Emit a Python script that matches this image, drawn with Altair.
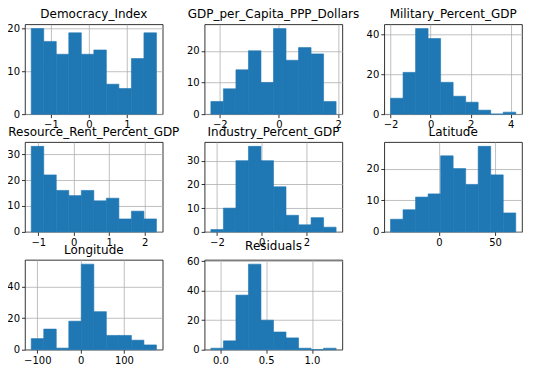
import altair as alt
import numpy as np
import pandas as pd

names = ["Democracy_Index", "GDP_per_Capita_PPP_Dollars", "Military_Percent_GDP",
         "Resource_Rent_Percent_GDP", "Industry_Percent_GDP", "Latitude",
         "Longitude", "Residuals"]
lows = [-1.52, -2.30, -2.00, -1.20, -2.27, -43.0, -114.0, -0.104]
highs = [1.78, 1.93, 4.25, 2.33, 3.33, 68.4, 175.0, 1.264]
counts = [
    [20, 17, 14, 19, 14, 15, 7, 6, 13, 19],
    [4, 8, 14, 20, 10, 27, 17, 21, 19, 4],
    [8, 21, 43, 38, 16, 9, 6, 2, 0, 1],
    [33, 22, 16, 14, 16, 12, 13, 5, 8, 5],
    [1, 10, 30, 36, 30, 19, 7, 3, 6, 2],
    [4, 7, 11, 12, 24, 20, 15, 27, 18, 6],
    [7, 13, 1, 18, 54, 24, 9, 9, 6, 3],
    [1, 6, 37, 58, 20, 12, 8, 1, 0, 1],
]
x_ticks = [
    [-1, 0, 1],
    [-2, 0, 2],
    [-2, 0, 2, 4],
    [-1, 0, 1, 2],
    [-2, 0, 2],
    [0, 50],
    [-100, 0, 100],
    [0.0, 0.5, 1.0],
]
y_ticks = [
    [0, 10, 20],
    [0, 10, 20],
    [0, 20, 40],
    [0, 10, 20, 30],
    [0, 10, 20, 30],
    [0, 10, 20],
    [0, 20, 40],
    [0, 20, 40, 60],
]
x_formats = ["d", "d", "d", "d", "d", "d", "d", ".1f"]

minus_expr = "replace(datum.label, '-', '\u2212')"

charts = []
for i, name in enumerate(names):
    edges = np.linspace(lows[i], highs[i], len(counts[i]) + 1)
    df = pd.DataFrame({"start": edges[:-1], "end": edges[1:], "count": counts[i]})
    span = highs[i] - lows[i]
    xdom = [lows[i] - 0.05 * span, highs[i] + 0.05 * span]
    ydom = [0, max(counts[i]) * 1.05]
    c = alt.Chart(df, title=alt.Title(name)).mark_bar(
        color="#1f77b4", stroke="#1f77b4", strokeWidth=0.6
    ).encode(
        x=alt.X("start:Q", scale=alt.Scale(domain=xdom, nice=False, zero=False),
                axis=alt.Axis(values=x_ticks[i], format=x_formats[i], labelExpr=minus_expr, title=None)),
        x2="end:Q",
        y=alt.Y("count:Q", scale=alt.Scale(domain=ydom, nice=False),
                axis=alt.Axis(values=y_ticks[i], format="d", title=None)),
        y2=alt.datum(0),
    ).properties(width=138, height=90)
    charts.append(c)

chart = alt.concat(*charts, columns=3, spacing={"row": 28, "column": 42}, bounds="flush").configure_view(
    stroke="black", strokeWidth=0.8
).configure_axis(
    grid=True, gridColor="#b0b0b0", gridWidth=0.8, domain=False,
    tickColor="black", tickSize=3.5, tickWidth=0.8,
    labelFont="DejaVu Sans", labelFontSize=10, labelColor="black", labelPadding=2,
    zindex=1,
).configure_title(
    font="DejaVu Sans", fontSize=12, fontWeight="normal", color="black", offset=3
).properties(
    padding={"left": -2, "top": -2, "right": 5, "bottom": 5},
    background="white",
)

chart.save("out.html", embed_options={"renderer": "svg", "actions": False})
